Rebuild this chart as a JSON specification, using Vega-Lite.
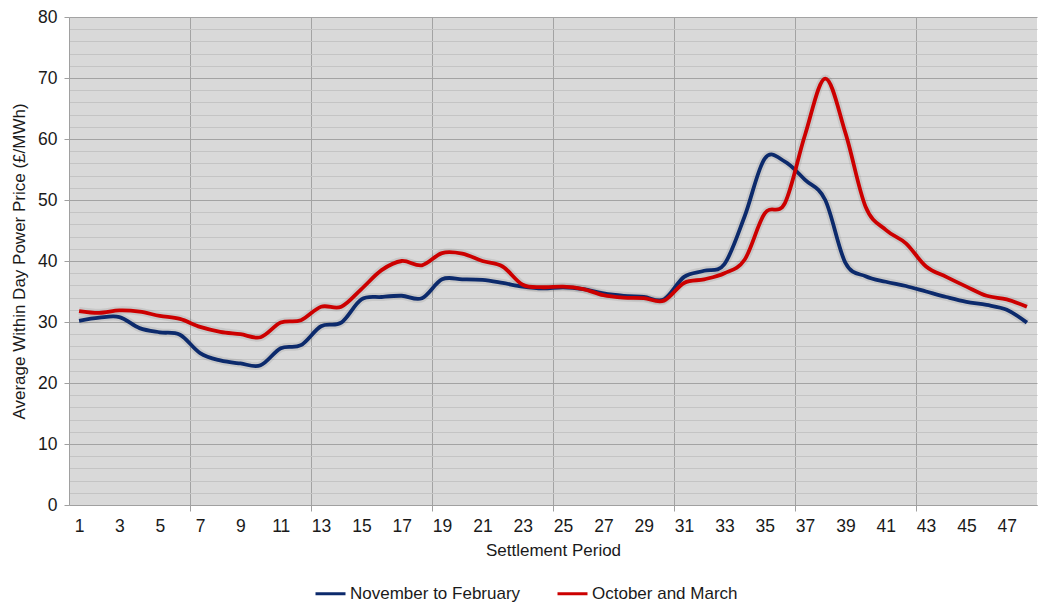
{
  "$schema": "https://vega.github.io/schema/vega-lite/v6.json",
  "width": 968,
  "height": 488,
  "autosize": {"type": "none"},
  "padding": {"left": 69, "top": 17, "right": 2, "bottom": 99},
  "background": "white",
  "config": {
    "font": "Liberation Sans",
    "view": {"fill": "#d9d9d9", "stroke": null},
    "axis": {"labelFont": "Liberation Sans", "titleFont": "Liberation Sans", "labelColor": "#1a1a1a", "titleColor": "#1a1a1a", "titleFontWeight": "normal", "labelFontSize": 17.5, "titleFontSize": 17},
    "legend": {"labelFont": "Liberation Sans", "labelFontSize": 17, "labelColor": "#1a1a1a"}
  },
  "data": {"values": [
    {"period": 1, "series": "November to February", "price": 30.2},
    {"period": 2, "series": "November to February", "price": 30.7},
    {"period": 3, "series": "November to February", "price": 30.8},
    {"period": 4, "series": "November to February", "price": 29.0},
    {"period": 5, "series": "November to February", "price": 28.3},
    {"period": 6, "series": "November to February", "price": 27.9},
    {"period": 7, "series": "November to February", "price": 24.9},
    {"period": 8, "series": "November to February", "price": 23.7},
    {"period": 9, "series": "November to February", "price": 23.2},
    {"period": 10, "series": "November to February", "price": 22.9},
    {"period": 11, "series": "November to February", "price": 25.7},
    {"period": 12, "series": "November to February", "price": 26.2},
    {"period": 13, "series": "November to February", "price": 29.3},
    {"period": 14, "series": "November to February", "price": 29.9},
    {"period": 15, "series": "November to February", "price": 33.7},
    {"period": 16, "series": "November to February", "price": 34.1},
    {"period": 17, "series": "November to February", "price": 34.3},
    {"period": 18, "series": "November to February", "price": 33.9},
    {"period": 19, "series": "November to February", "price": 37.0},
    {"period": 20, "series": "November to February", "price": 37.0},
    {"period": 21, "series": "November to February", "price": 36.9},
    {"period": 22, "series": "November to February", "price": 36.4},
    {"period": 23, "series": "November to February", "price": 35.8},
    {"period": 24, "series": "November to February", "price": 35.5},
    {"period": 25, "series": "November to February", "price": 35.7},
    {"period": 26, "series": "November to February", "price": 35.4},
    {"period": 27, "series": "November to February", "price": 34.7},
    {"period": 28, "series": "November to February", "price": 34.3},
    {"period": 29, "series": "November to February", "price": 34.1},
    {"period": 30, "series": "November to February", "price": 33.7},
    {"period": 31, "series": "November to February", "price": 37.4},
    {"period": 32, "series": "November to February", "price": 38.4},
    {"period": 33, "series": "November to February", "price": 39.5},
    {"period": 34, "series": "November to February", "price": 47.3},
    {"period": 35, "series": "November to February", "price": 56.8},
    {"period": 36, "series": "November to February", "price": 56.3},
    {"period": 37, "series": "November to February", "price": 53.3},
    {"period": 38, "series": "November to February", "price": 50.0},
    {"period": 39, "series": "November to February", "price": 39.7},
    {"period": 40, "series": "November to February", "price": 37.5},
    {"period": 41, "series": "November to February", "price": 36.6},
    {"period": 42, "series": "November to February", "price": 35.9},
    {"period": 43, "series": "November to February", "price": 35.0},
    {"period": 44, "series": "November to February", "price": 34.1},
    {"period": 45, "series": "November to February", "price": 33.3},
    {"period": 46, "series": "November to February", "price": 32.8},
    {"period": 47, "series": "November to February", "price": 32.0},
    {"period": 48, "series": "November to February", "price": 29.9},
    {"period": 1, "series": "October and March", "price": 31.8},
    {"period": 2, "series": "October and March", "price": 31.5},
    {"period": 3, "series": "October and March", "price": 31.9},
    {"period": 4, "series": "October and March", "price": 31.7},
    {"period": 5, "series": "October and March", "price": 31.0},
    {"period": 6, "series": "October and March", "price": 30.5},
    {"period": 7, "series": "October and March", "price": 29.2},
    {"period": 8, "series": "October and March", "price": 28.4},
    {"period": 9, "series": "October and March", "price": 28.0},
    {"period": 10, "series": "October and March", "price": 27.5},
    {"period": 11, "series": "October and March", "price": 29.9},
    {"period": 12, "series": "October and March", "price": 30.3},
    {"period": 13, "series": "October and March", "price": 32.5},
    {"period": 14, "series": "October and March", "price": 32.5},
    {"period": 15, "series": "October and March", "price": 35.4},
    {"period": 16, "series": "October and March", "price": 38.5},
    {"period": 17, "series": "October and March", "price": 40.0},
    {"period": 18, "series": "October and March", "price": 39.3},
    {"period": 19, "series": "October and March", "price": 41.3},
    {"period": 20, "series": "October and March", "price": 41.2},
    {"period": 21, "series": "October and March", "price": 40.0},
    {"period": 22, "series": "October and March", "price": 39.1},
    {"period": 23, "series": "October and March", "price": 36.1},
    {"period": 24, "series": "October and March", "price": 35.7},
    {"period": 25, "series": "October and March", "price": 35.8},
    {"period": 26, "series": "October and March", "price": 35.4},
    {"period": 27, "series": "October and March", "price": 34.4},
    {"period": 28, "series": "October and March", "price": 34.0},
    {"period": 29, "series": "October and March", "price": 33.9},
    {"period": 30, "series": "October and March", "price": 33.5},
    {"period": 31, "series": "October and March", "price": 36.4},
    {"period": 32, "series": "October and March", "price": 37.0},
    {"period": 33, "series": "October and March", "price": 38.0},
    {"period": 34, "series": "October and March", "price": 40.2},
    {"period": 35, "series": "October and March", "price": 47.8},
    {"period": 36, "series": "October and March", "price": 49.5},
    {"period": 37, "series": "October and March", "price": 60.7},
    {"period": 38, "series": "October and March", "price": 69.9},
    {"period": 39, "series": "October and March", "price": 61.0},
    {"period": 40, "series": "October and March", "price": 48.9},
    {"period": 41, "series": "October and March", "price": 45.1},
    {"period": 42, "series": "October and March", "price": 42.9},
    {"period": 43, "series": "October and March", "price": 39.1},
    {"period": 44, "series": "October and March", "price": 37.4},
    {"period": 45, "series": "October and March", "price": 35.8},
    {"period": 46, "series": "October and March", "price": 34.3},
    {"period": 47, "series": "October and March", "price": 33.7},
    {"period": 48, "series": "October and March", "price": 32.5}
  ]},
  "encoding": {
    "x": {
      "field": "period", "type": "quantitative",
      "scale": {"domain": [0.5, 48.5], "nice": false, "zero": false},
      "axis": {
        "title": "Settlement  Period",
        "values": [1, 3, 5, 6.5, 7, 9, 11, 12.5, 13, 15, 17, 18.5, 19, 21, 23, 24.5, 25, 27, 29, 30.5, 31, 33, 35, 36.5, 37, 39, 41, 42.5, 43, 45, 47],
        "labelExpr": "datum.value % 2 === 1 ? datum.label : ''",
        "labelOverlap": false,
        "labelFlush": false,
        "tickSize": 6,
        "labelPadding": 6,
        "titlePadding": 8,
        "tickColor": "#a0a0a0",
        "tickOpacity": {"condition": {"test": "datum.value % 2 === 1", "value": 0}, "value": 1},
        "grid": true,
        "gridColor": "#a3a3a3",
        "gridOpacity": {"condition": {"test": "datum.value % 2 === 1", "value": 0}, "value": 1},
        "domainColor": "#a0a0a0",
        "domainWidth": 1
      }
    },
    "y": {
      "field": "price", "type": "quantitative",
      "scale": {"domain": [0, 80], "nice": false},
      "axis": {
        "title": "Average Within Day Power Price (£/MWh)",
        "values": [0, 2, 4, 6, 8, 10, 12, 14, 16, 18, 20, 22, 24, 26, 28, 30, 32, 34, 36, 38, 40, 42, 44, 46, 48, 50, 52, 54, 56, 58, 60, 62, 64, 66, 68, 70, 72, 74, 76, 78, 80],
        "labelExpr": "datum.value % 10 === 0 ? datum.label : ''",
        "labelOverlap": false,
        "tickSize": 5,
        "labelPadding": 7,
        "titlePadding": 9,
        "tickColor": "#a0a0a0",
        "tickOpacity": {"condition": {"test": "datum.value % 10 === 0", "value": 1}, "value": 0},
        "grid": true,
        "gridColor": {"condition": {"test": "datum.value % 10 === 0", "value": "#a3a3a3"}, "value": "#c4c4c4"},
        "domainColor": "#a0a0a0"
      }
    }
  },
  "layer": [
    {
      "mark": {"type": "line", "interpolate": "cardinal", "strokeWidth": 8, "color": "#555555", "opacity": 0.12},
      "encoding": {"detail": {"field": "series"}}
    },
    {
      "mark": {"type": "line", "interpolate": "cardinal", "strokeWidth": 3.8},
      "encoding": {
        "color": {
          "field": "series", "type": "nominal",
          "scale": {"domain": ["November to February", "October and March"], "range": ["#0c2a6c", "#cc0000"]},
          "legend": {
            "title": null,
            "orient": "none",
            "direction": "horizontal",
            "legendX": 245,
            "legendY": 560,
            "symbolType": "stroke",
            "symbolSize": 900,
            "symbolStrokeWidth": 3,
            "labelOffset": 3,
            "labelLimit": 400,
            "columnPadding": 30,
            "padding": 0
          }
        }
      }
    }
  ]
}
